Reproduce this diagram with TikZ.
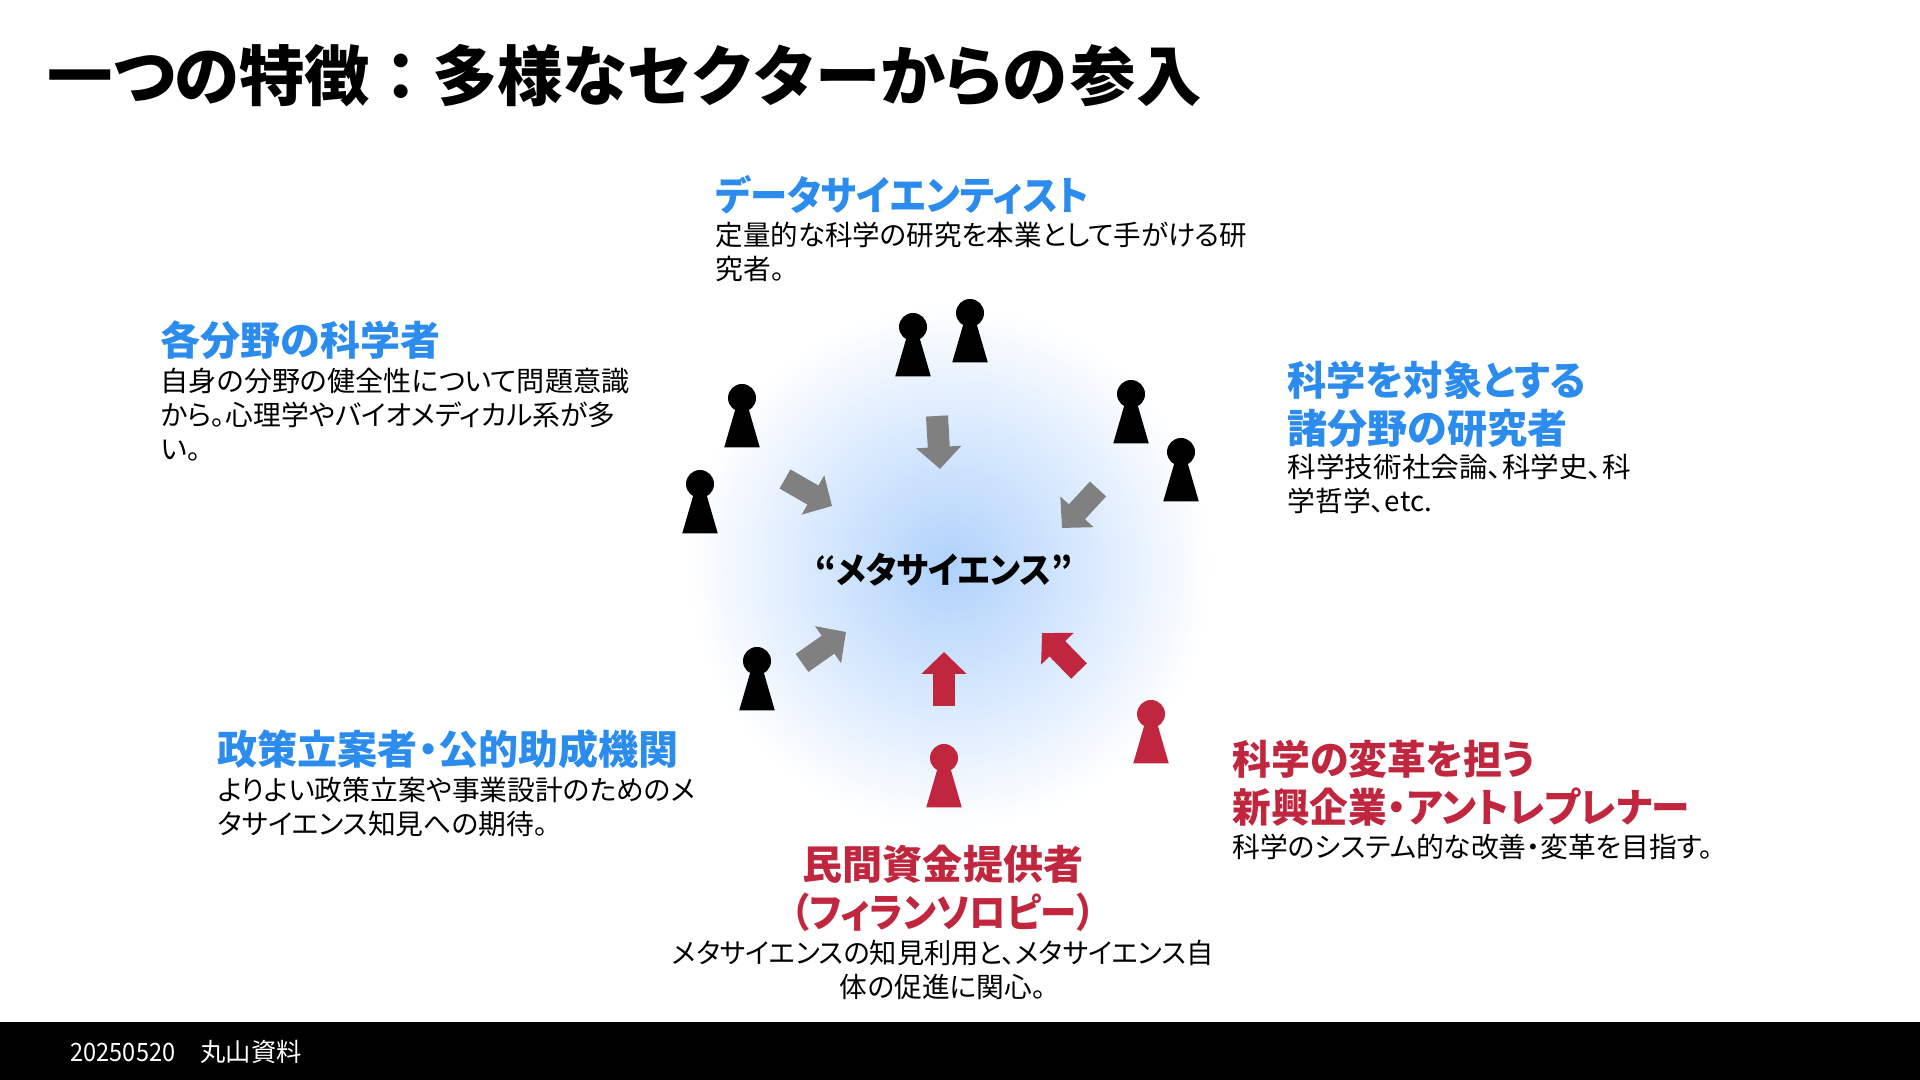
\documentclass[tikz,border=0pt]{standalone}
\usepackage{fontspec}
\usepackage{xcolor}
\usepackage{tikz}
\usetikzlibrary{arrows.meta,positioning}
\setmainfont[RawFeature=+palt]{Noto Sans CJK JP}

\definecolor{headblue}{HTML}{2B8CEE}
\definecolor{pawnred}{HTML}{C0273F}
\definecolor{glowblue}{HTML}{AFD2FB}

\newcommand{\squeezed}[1]{\addfontfeature{FakeStretch=#1}}

\tikzset{
  titletext/.style={right,inner sep=0pt,font=\fontsize{18.6}{22}\selectfont\bfseries},
  headtext/.style={inner sep=0pt,align=left,text=headblue,font=\fontsize{11.4}{13.6}\selectfont\bfseries},
  bodytext/.style={inner sep=0pt,align=left,font=\fontsize{7.9}{9.7}\selectfont},
  greyarrow/.style={-{Triangle[length=2.2mm,width=4.4mm]},line width=2.2mm,color=gray},
  redarrow/.style={-{Triangle[length=2.2mm,width=4.4mm]},line width=2.2mm,color=pawnred},
  pics/pawn/.style={code={
    \fill (0,0) circle (0.14);
    \fill (-0.034,0) -- (0.034,0) -- (0.178,-0.495) -- (-0.178,-0.495) -- cycle;
  }}
}

\begin{document}
\begin{tikzpicture}[x=1cm,y=1cm]
  \useasboundingbox (0,0) rectangle (19.2,10.8);

  % glow and footer
  \shade[inner color=glowblue,outer color=white] (9.50,5.13) circle (2.62);
  \fill[black] (0,0) rectangle (19.2,0.58);
  \node[right,inner sep=0pt,text=white,font=\fontsize{7.2}{9}\selectfont] (footer) at (0.70,0.28) {{\squeezed{0.93}20250520}　丸山資料};

  % title
  \node[titletext] (title) at (0.47,10.04) {一つの特徴\hspace{0.147cm}：\hspace{0.147cm}多様なセ\hspace{0.03cm}ク\hspace{0.03cm}タ\hspace{0.03cm}ーからの\hspace{0.04cm}参入};

  % centre
  \node[inner sep=0pt,font=\fontsize{10.2}{12}\selectfont\bfseries\squeezed{0.93}] (meta) at (9.44,5.10) {“メタサイエンス”};

  % pawns
  \foreach \px/\py/\pc in {9.13/7.53/black,9.70/7.67/black,7.42/6.82/black,7.00/5.96/black,
    11.31/6.86/black,11.81/6.28/black,7.57/4.19/black,11.51/3.66/pawnred,9.44/3.22/pawnred}
    \pic[fill=\pc] at (\px,\py) {pawn};

  % arrows
  \coordinate (a1) at (9.37,6.64);
  \coordinate (b1) at (9.40,6.11);
  \coordinate (a2) at (7.85,6.01);
  \coordinate (b2) at (8.32,5.74);
  \coordinate (a3) at (10.98,5.91);
  \coordinate (b3) at (10.62,5.52);
  \coordinate (a4) at (8.02,4.17);
  \coordinate (b4) at (8.46,4.48);
  \coordinate (a5) at (9.44,3.74);
  \coordinate (b5) at (9.44,4.28);
  \coordinate (a6) at (10.79,4.09);
  \coordinate (b6) at (10.42,4.47);
  \draw[greyarrow] (a1) -- (b1);
  \draw[greyarrow] (a2) -- (b2);
  \draw[greyarrow] (a3) -- (b3);
  \draw[greyarrow] (a4) -- (b4);
  \draw[redarrow] (a5) -- (b5);
  \draw[redarrow] (a6) -- (b6);

  % sectors
  \node[headtext,right] (data) at (7.15,8.85) {\squeezed{0.933}データサイエンティスト};
  \node[bodytext,right] (datab) at (7.15,8.28) {\squeezed{0.99}定量的な科学の研究を本業として手がける研\\究者。};

  \node[headtext,right] (field) at (1.60,7.40) {各分野の科学者};
  \node[bodytext,right] (fieldb) at (1.60,6.65) {\squeezed{1.013}自身の分野の健全性について問題意識\\から。心理学やバイオメディカル系が多\\い。};

  \node[headtext,right] (sci) at (12.87,6.76) {{\squeezed{0.98}科学を対象とする}\\諸分野の研究者};
  \node[bodytext,right] (scib) at (12.87,5.96) {\squeezed{1.03}科学技術社会論、科学史、科\\学哲学、etc.};

  \node[headtext,right] (policy) at (2.17,3.31) {政策立案者・公的助成機関};
  \node[bodytext,right] (policyb) at (2.17,2.73) {よりよい政策立案や事業設計のためのメ\\タサイエンス知見への期待。};

  \node[headtext,align=center,text=pawnred] (donor) at (9.43,1.92) {民間資金提供者\\{\squeezed{0.91}（フィランソロピー）}};
  \node[bodytext,align=center] (donorb) at (9.43,1.10) {\squeezed{0.98}メタサイエンスの知見利用と、メタサイエンス自\\体の促進に関心。};

  \node[headtext,right,text=pawnred] (venture) at (12.32,2.97) {{\squeezed{0.969}科学の変革を担う}\\{\squeezed{0.964}新興企業・アントレプレナー}};
  \node[bodytext,right] (ventureb) at (12.32,2.33) {科学のシステム的な改善・変革を目指す。};
\end{tikzpicture}
\end{document}
